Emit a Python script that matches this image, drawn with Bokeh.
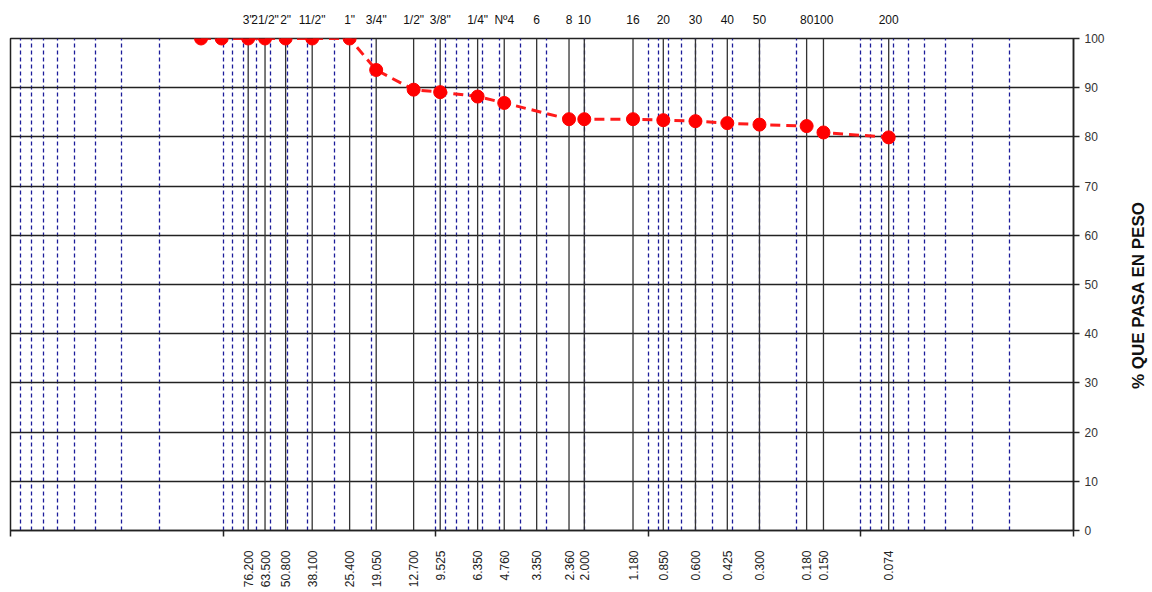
import math
from bokeh.plotting import figure
from bokeh.layouts import row
from bokeh.models import (Range1d, FixedTicker, LogAxis, CustomJSTickFormatter,
                          PrintfTickFormatter)
from bokeh.core.properties import value
from bokeh.embed import file_html
from bokeh.resources import INLINE

# Sieve designations (top) and openings in mm (bottom)
sieve_names = ['3"', '21/2"', '2"', '11/2"', '1"', '3/4"', '1/2"', '3/8"', '1/4"',
               'Nº4', '6', '8', '10', '16', '20', '30', '40', '50', '80', '100', '200']
sieve_mm = [76.2, 63.5, 50.8, 38.1, 25.4, 19.05, 12.7, 9.525, 6.35, 4.76, 3.35,
            2.36, 2.0, 1.18, 0.85, 0.6, 0.425, 0.3, 0.18, 0.15, 0.074]

# Grading curve
sample_mm = [127.0, 101.6, 76.2, 63.5, 50.8, 38.1, 25.4, 19.05, 12.7, 9.525, 6.35,
             4.76, 2.36, 2.0, 1.18, 0.85, 0.6, 0.425, 0.3, 0.18, 0.15, 0.074]
pass_pct = [100, 100, 100, 100, 100, 100, 100, 93.6, 89.6, 89.1, 88.2,
            86.9, 83.6, 83.6, 83.6, 83.4, 83.2, 82.8, 82.5, 82.2, 80.9, 79.9]

y_ticks = list(range(0, 101, 10))
decades = [1000, 100, 10, 1, 0.1, 0.01]
log_grid = [m * 10.0 ** e for e in range(-2, 3) for m in range(1, 10)] + [1000]
y_title = "% QUE  PASA EN PESO"

FONT = "Liberation Sans"

p = figure(width=1116, height=590, x_axis_type="log",
           x_range=Range1d(1000, 0.01), y_range=Range1d(0, 100),
           y_axis_location="right", output_backend="svg", toolbar_location=None,
           min_border_left=10, min_border_right=43, min_border_top=38,
           min_border_bottom=59)
p.background_fill_color = "white"
p.border_fill_color = "white"
p.outline_line_color = "#222222"
p.outline_line_width = 1.5

# grids
p.xgrid.ticker = FixedTicker(ticks=log_grid)
p.xgrid.grid_line_color = "#1c1c9a"
p.xgrid.grid_line_dash = "4 3"
p.xgrid.grid_line_width = 1.3
p.ygrid.ticker = FixedTicker(ticks=y_ticks)
p.ygrid.grid_line_color = "#222222"
p.ygrid.grid_line_width = 1.5

# bottom axis: sieve openings
xa = p.xaxis[0]
xa.ticker = FixedTicker(ticks=sieve_mm, minor_ticks=decades)
xa.formatter = PrintfTickFormatter(format="%.3f")
xa.major_tick_line_color = None
xa.major_tick_out = 0
xa.major_tick_in = 0
xa.minor_tick_line_color = "#222222"
xa.minor_tick_line_width = 1.5
xa.minor_tick_out = 6
xa.minor_tick_in = 0
xa.axis_line_color = "#222222"
xa.axis_line_width = 1.5
xa.major_label_orientation = math.pi / 2
xa.major_label_standoff = 14
xa.major_label_text_font = FONT
xa.major_label_text_font_size = "12px"
xa.major_label_text_color = "#222222"

# top axis: sieve names
top = LogAxis(ticker=FixedTicker(ticks=sieve_mm),
              formatter=CustomJSTickFormatter(args=dict(t=sieve_mm, n=sieve_names), code="""
    for (let i = 0; i < t.length; i++) { if (Math.abs(t[i] - tick) < 1e-9) return n[i]; }
    return "";
"""))
top.axis_line_color = None
top.major_tick_line_color = None
top.minor_tick_line_color = None
top.major_tick_out = 0
top.major_tick_in = 0
top.major_label_standoff = 12
top.major_label_text_font = FONT
top.major_label_text_font_size = "12px"
top.major_label_text_color = "#111111"
p.add_layout(top, "above")

# right axis
ya = p.yaxis[0]
ya.ticker = FixedTicker(ticks=y_ticks)
ya.minor_tick_line_color = None
ya.major_tick_out = 6
ya.major_tick_in = 0
ya.major_tick_line_color = "#222222"
ya.major_tick_line_width = 1.5
ya.axis_line_color = "#222222"
ya.axis_line_width = 1.5
ya.major_label_standoff = 5
ya.major_label_text_font = FONT
ya.major_label_text_font_size = "12px"
ya.major_label_text_color = "#333333"

# sieve lines
p.segment(x0=sieve_mm, y0=0, x1=sieve_mm, y1=100, line_color="#333333", line_width=1.3)

# grading curve
p.line(sample_mm, pass_pct, line_color="#ff1a1a", line_width=3, line_dash="10 6")
p.scatter(sample_mm, pass_pct, size=13, fill_color="#ff0000", line_color="#ff0000")

# narrow strip carrying the vertical axis title (reads bottom to top)
t = figure(width=36, height=590, x_range=Range1d(0, 36), y_range=Range1d(0, 590),
           x_axis_location=None, y_axis_location=None, output_backend="svg",
           toolbar_location=None, min_border=0)
t.outline_line_color = None
t.xgrid.visible = False
t.ygrid.visible = False
t.background_fill_color = "white"
t.border_fill_color = "white"
t.text(x=[22], y=[285], text=[y_title], angle=math.pi / 2, text_align="center",
       text_baseline="middle", text_font=value(FONT), text_font_style="bold",
       text_font_size="17px", text_color="#111111")

open("out.html", "w").write(file_html(row(p, t), INLINE))
